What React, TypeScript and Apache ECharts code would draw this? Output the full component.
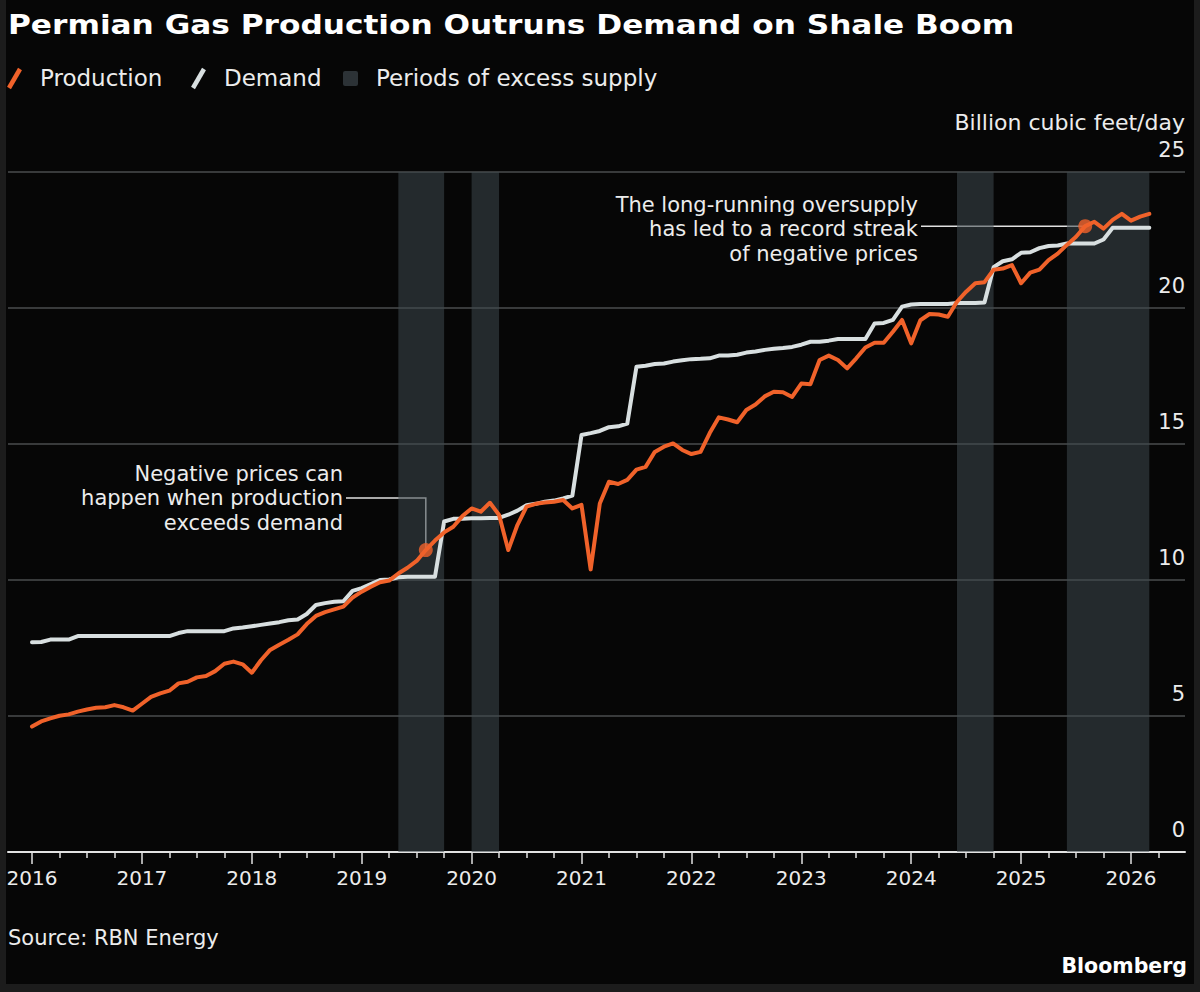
import React, { useEffect, useRef } from 'react';
import * as echarts from 'echarts';

const FONT = '"DejaVu Sans", sans-serif';

// Monthly values, Jan 2016 .. Mar 2026 (billion cubic feet/day)
const production: number[] = [
  4.61, 4.8, 4.91, 5.01, 5.06, 5.16, 5.24, 5.3, 5.32, 5.4, 5.32, 5.2, // 2016
  5.45, 5.7, 5.83, 5.93, 6.2, 6.26, 6.42, 6.47, 6.65, 6.92, 7.0, 6.9, // 2017
  6.59, 7.05, 7.43, 7.62, 7.8, 8.0, 8.38, 8.68, 8.82, 8.92, 9.02, 9.35, // 2018
  9.57, 9.75, 9.92, 9.98, 10.24, 10.45, 10.7, 11.1, 11.45, 11.75, 11.96, 12.35, // 2019
  12.63, 12.51, 12.84, 12.39, 11.1, 12.02, 12.7, 12.8, 12.85, 12.88, 12.94, 12.63, // 2020
  12.76, 10.39, 12.81, 13.61, 13.53, 13.68, 14.06, 14.16, 14.71, 14.9, 15.02, 14.78, // 2021
  14.63, 14.71, 15.4, 15.98, 15.9, 15.8, 16.25, 16.45, 16.75, 16.92, 16.9, 16.73, // 2022
  17.22, 17.2, 18.09, 18.25, 18.09, 17.78, 18.15, 18.55, 18.72, 18.72, 19.13, 19.56, // 2023
  18.7, 19.55, 19.78, 19.76, 19.68, 20.23, 20.6, 20.91, 20.95, 21.41, 21.45, 21.58, // 2024
  20.91, 21.3, 21.41, 21.76, 22.0, 22.32, 22.62, 23.01, 23.17, 22.92, 23.24, 23.46, // 2025
  23.21, 23.36, 23.46, // 2026
];

const demand: number[] = [
  7.71, 7.72, 7.81, 7.81, 7.81, 7.94, 7.94, 7.94, 7.94, 7.94, 7.94, 7.94, // 2016
  7.94, 7.94, 7.94, 7.94, 8.05, 8.12, 8.12, 8.12, 8.12, 8.12, 8.22, 8.25, // 2017
  8.3, 8.35, 8.4, 8.45, 8.52, 8.55, 8.75, 9.08, 9.15, 9.2, 9.22, 9.6, // 2018
  9.7, 9.85, 10.0, 10.02, 10.1, 10.12, 10.12, 10.12, 10.12, 12.15, 12.25, 12.25, // 2019
  12.27, 12.27, 12.28, 12.28, 12.4, 12.55, 12.75, 12.8, 12.88, 12.92, 13.0, 13.1, // 2020
  15.33, 15.4, 15.48, 15.62, 15.65, 15.75, 17.84, 17.88, 17.94, 17.96, 18.03, 18.08, // 2021
  18.12, 18.13, 18.15, 18.25, 18.25, 18.28, 18.36, 18.4, 18.46, 18.5, 18.53, 18.57, // 2022
  18.65, 18.76, 18.76, 18.8, 18.86, 18.86, 18.86, 18.86, 19.43, 19.45, 19.56, 20.05, // 2023
  20.13, 20.15, 20.15, 20.15, 20.15, 20.18, 20.18, 20.18, 20.2, 21.5, 21.72, 21.79, // 2024
  22.03, 22.05, 22.2, 22.28, 22.3, 22.37, 22.37, 22.37, 22.37, 22.52, 22.95, 22.95, // 2025
  22.95, 22.95, 22.95, // 2026
];

const firstYear = 2016;
const excessStarts = ['2019-05', '2020-01', '2024-06', '2025-06'];
const excessEnds = ['2019-10', '2020-04', '2024-10', '2026-03'];
const yearTicks = [2016, 2017, 2018, 2019, 2020, 2021, 2022, 2023, 2024, 2025, 2026];
const quarterFractions = [0.25, 0.5, 0.75];
const highlightMonths = ['2019-08', '2025-08'];

const TITLE = 'Permian Gas Production Outruns Demand on Shale Boom';
const UNIT = 'Billion cubic feet/day';
const NOTE_1 = ['Negative prices can', 'happen when production', 'exceeds demand'];
const NOTE_2 = ['The long-running oversupply', 'has led to a record streak', 'of negative prices'];
const SOURCE = 'Source: RBN Energy';

const ORANGE = '#f0622a';
const GREY = '#d8dfe0';
const TEXT = '#ececec';

const months = production.map((_, i) => {
  const y = firstYear + Math.floor(i / 12);
  const m = (i % 12) + 1;
  return `${y}-${String(m).padStart(2, '0')}`;
});
const toYear = (ym: string) => {
  const [y, m] = ym.split('-').map(Number);
  return y + (m - 1) / 12;
};

export default function App() {
  const ref = useRef<HTMLDivElement>(null);

  useEffect(() => {
    document.body.style.margin = '0';
    const chart = echarts.init(ref.current!, null, { renderer: 'svg' });

    const prodData = months.map((m, i) => [toYear(m), production[i]]);
    const demData = months.map((m, i) => [toYear(m), demand[i]]);
    const quarterTicks: number[] = [];
    yearTicks.forEach((y) => quarterFractions.forEach((f) => { if (y + f < 2026.4) quarterTicks.push(y + f); }));
    const dots = highlightMonths.map((m) => {
      const i = months.indexOf(m);
      return [toYear(m), production[i]];
    });

    const xMin = 2015.7816;
    const xMax = 2026.4914;

    chart.setOption({
      animation: false,
      backgroundColor: 'transparent',
      textStyle: { fontFamily: FONT },
      grid: { left: 8, right: 15, top: 172, bottom: 140, containLabel: false, outerBoundsMode: 'none' },
      xAxis: [
        {
          type: 'value', min: xMin, max: xMax, position: 'bottom',
          axisLine: { show: true, onZero: false, lineStyle: { color: '#e2e2e2', width: 2 } },
          axisTick: { show: true, customValues: yearTicks, length: 12, lineStyle: { color: '#e2e2e2', width: 1.5 } },
          axisLabel: {
            show: true, customValues: yearTicks, margin: 16, fontSize: 20, color: TEXT, fontFamily: FONT,
            formatter: (v: number) => String(Math.round(v)),
          },
          splitLine: { show: false },
        },
        {
          type: 'value', min: xMin, max: xMax, position: 'bottom', offset: 0,
          axisLine: { show: false },
          axisTick: { show: true, customValues: quarterTicks, length: 6, lineStyle: { color: '#e2e2e2', width: 1.5 } },
          axisLabel: { show: false },
          splitLine: { show: false },
        },
      ],
      yAxis: {
        type: 'value', position: 'right', min: 0, max: 25, interval: 5,
        axisLine: { show: false },
        axisTick: { show: false },
        axisLabel: {
          inside: true, margin: 0, align: 'right', verticalAlign: 'bottom', lineHeight: 24,
          padding: [0, 0, 10, 0], fontSize: 21, color: TEXT, fontFamily: FONT,
        },
        splitLine: { lineStyle: { color: '#4a4c4e', width: 1.5 } },
      },
      series: [
        {
          name: 'Periods of excess supply', type: 'line', data: [], z: 1, silent: true,
          markArea: {
            silent: true,
            itemStyle: { color: 'rgba(62,72,78,0.55)' },
            data: excessStarts.map((s, i) => [{ xAxis: toYear(s) }, { xAxis: toYear(excessEnds[i]) }]),
          },
        },
        {
          name: 'Demand', type: 'line', data: demData, showSymbol: false, symbol: 'none', z: 3,
          lineStyle: { color: GREY, width: 4, join: 'round', cap: 'round' },
          itemStyle: { color: GREY },
        },
        {
          name: 'Production', type: 'line', data: prodData, showSymbol: false, symbol: 'none', z: 4,
          lineStyle: { color: ORANGE, width: 4, join: 'round', cap: 'round' },
          itemStyle: { color: ORANGE },
        },
        {
          name: 'Highlights', type: 'scatter', data: dots, symbolSize: 14, z: 5,
          itemStyle: { color: ORANGE },
        },
      ],
    });

    const p1 = chart.convertToPixel({ xAxisIndex: 0, yAxisIndex: 0 }, dots[0]) as number[];
    const p2 = chart.convertToPixel({ xAxisIndex: 0, yAxisIndex: 0 }, dots[1]) as number[];

    const txt = (text: string, x: number, y: number, extra: any = {}) => ({
      type: 'text', x, y, silent: true,
      style: { text, fill: TEXT, fontSize: 23, fontFamily: FONT, verticalAlign: 'middle', align: 'left', ...extra },
    });

    chart.setOption({
      graphic: [
        {
          type: 'text', x: 8, y: 25, scaleX: 1.2, silent: true,
          style: { text: TITLE, fill: '#ffffff', fontSize: 26, fontWeight: 'bold', fontFamily: FONT, verticalAlign: 'middle' },
        },
        { type: 'line', silent: true, shape: { x1: 9, y1: 88, x2: 20, y2: 69 }, style: { stroke: ORANGE, lineWidth: 4.5 } },
        txt('Production', 40, 78),
        { type: 'line', silent: true, shape: { x1: 193, y1: 88, x2: 204, y2: 69 }, style: { stroke: GREY, lineWidth: 4.5 } },
        txt('Demand', 224, 78),
        { type: 'rect', silent: true, shape: { x: 343, y: 71, width: 15, height: 15, r: 2 }, style: { fill: '#2c3236' } },
        txt('Periods of excess supply', 376, 78),
        txt(UNIT, 1185, 122, { align: 'right', fontSize: 22 }),
        txt(NOTE_1.join('\n'), 343, 498, { align: 'right', fontSize: 21, lineHeight: 24.5 }),
        txt(NOTE_2.join('\n'), 918, 229, { align: 'right', fontSize: 21, lineHeight: 24.5 }),
        {
          type: 'polyline', silent: true,
          shape: { points: [[346, 498], [p1[0], 498], [p1[0], p1[1]]] },
          style: { stroke: '#e0e0e0', lineWidth: 1.5, fill: 'none' },
        },
        {
          type: 'line', silent: true,
          shape: { x1: 921, y1: p2[1], x2: p2[0], y2: p2[1] },
          style: { stroke: '#e0e0e0', lineWidth: 1.5 },
        },
        txt(SOURCE, 8, 938, { fontSize: 21 }),
        txt('Bloomberg', 1187, 966, { align: 'right', fontSize: 20.5, fontWeight: 'bold', fill: '#ffffff' }),
      ],
    });

    return () => chart.dispose();
  }, []);

  return (
    <div style={{ position: 'relative', width: 1200, height: 992, background: '#1c1c1c' }}>
      <div style={{ position: 'absolute', left: 6, top: 0, width: 1188, height: 984, background: '#060606' }} />
      <div ref={ref} style={{ position: 'absolute', left: 0, top: 0, width: 1200, height: 992 }} />
    </div>
  );
}
